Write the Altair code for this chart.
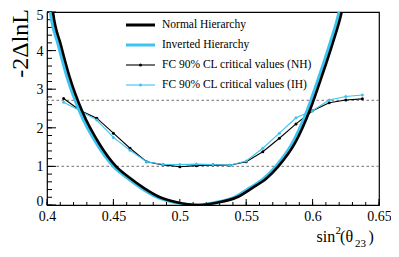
import altair as alt
import pandas as pd

# ---------------- data ----------------
nh_x = [0.4030, 0.4045, 0.4105, 0.4170, 0.4266, 0.4395, 0.4520, 0.4625, 0.4725, 0.4851,
        0.4977, 0.5130, 0.5280, 0.5430, 0.5550, 0.5650, 0.5742, 0.5867, 0.5980, 0.6068,
        0.6151, 0.6219, 0.6240]
nh_y = [5.45, 5.00, 4.14, 3.32, 2.42, 1.58, 1.00, 0.70, 0.45, 0.20,
        0.07, 0.00, 0.06, 0.20, 0.45, 0.68, 1.00, 1.60, 2.46, 3.32,
        4.19, 5.00, 5.35]
ih_x = [0.4010, 0.4025, 0.4085, 0.4150, 0.4246, 0.4375, 0.4500, 0.4605, 0.4705, 0.4831,
        0.4957, 0.5110, 0.5260, 0.5410, 0.5530, 0.5630, 0.5722, 0.5847, 0.5960, 0.6048,
        0.6131, 0.6199, 0.6220]
ih_y = [5.45, 5.00, 4.14, 3.32, 2.42, 1.58, 1.00, 0.70, 0.45, 0.20,
        0.07, 0.00, 0.06, 0.20, 0.45, 0.68, 1.00, 1.60, 2.46, 3.32,
        4.19, 5.00, 5.35]

fc_x = [0.4125, 0.4250, 0.4375, 0.4500, 0.4625, 0.4750, 0.4875, 0.5000, 0.5125, 0.5250,
        0.5375, 0.5500, 0.5625, 0.5750, 0.5875, 0.6000, 0.6125, 0.6250, 0.6375]
fc_nh_y = [2.76, 2.45, 2.25, 1.86, 1.47, 1.12, 1.04, 0.99, 1.02, 1.04,
           1.03, 1.12, 1.38, 1.73, 2.10, 2.44, 2.65, 2.72, 2.75]
fc_ih_y = [2.66, 2.44, 2.20, 1.75, 1.42, 1.12, 1.05, 1.05, 1.06, 1.05,
           1.03, 1.14, 1.47, 1.86, 2.26, 2.44, 2.72, 2.81, 2.85]

ref_levels = [2.71, 1.0]

x_labels = [0.4, 0.45, 0.5, 0.55, 0.6, 0.65]
y_labels = [0, 1, 2, 3, 4, 5]
x_minor = [round(0.4 + 0.01 * i, 2) for i in range(26)]
y_minor = [round(0.2 * i, 1) for i in range(26)]

legend_labels = ["Normal Hierarchy", "Inverted Hierarchy",
                 "FC 90% CL critical values (NH)", "FC 90% CL critical values (IH)"]

# ---------------- styling ----------------
W, H = 332, 193
BLACK = "#000000"
CYAN = "#3cc3f0"
FONT = "Liberation Serif"

xs = alt.Scale(domain=[0.4, 0.65], nice=False, zero=False)
ys = alt.Scale(domain=[0, 5], nice=False, zero=False)

x_axis = alt.Axis(values=x_labels, format=".2~f", ticks=False, domain=False,
                  grid=False, labelFont=FONT, labelFontSize=14, labelColor="black",
                  labelPadding=4, labelFlush=False, title=None)
y_axis = alt.Axis(values=y_labels, format="d", ticks=False, domain=False, grid=False,
                  labelFont=FONT, labelFontSize=14, labelColor="black",
                  labelPadding=4, labelFlush=False, title=None,
                  labelOffset={"condition": [{"test": "datum.value === 0", "value": -4},
                                             {"test": "datum.value === 5", "value": 3}],
                               "value": 0.5})

X = lambda f: alt.X(f, scale=xs, axis=x_axis)
Y = lambda f: alt.Y(f, scale=ys, axis=y_axis)


def curve(xv, yv, color, sw):
    df = pd.DataFrame({"x": xv, "y": yv})
    return alt.Chart(df).mark_line(color=color, strokeWidth=sw, clip=True,
                                   interpolate="monotone").encode(x=X("x:Q"), y=Y("y:Q"))


def fc(xv, yv, color):
    df = pd.DataFrame({"x": xv, "y": yv})
    return alt.Chart(df).mark_line(color=color, strokeWidth=1.1, clip=True,
                                   point=alt.OverlayMarkDef(color=color, filled=True,
                                                            size=9, opacity=1)).encode(
        x=X("x:Q"), y=Y("y:Q"))


one = pd.DataFrame({"a": [0]})


def txt(t, px, py, size, **kw):
    return alt.Chart(one).mark_text(text=t, font=FONT, fontSize=size, color="black",
                                    **kw).encode(x=alt.value(px), y=alt.value(py))


# reference (dashed) lines
ref = alt.Chart(pd.DataFrame({"y": ref_levels})).mark_rule(
    color="#8c8c8c", strokeDash=[2.5, 2.5], strokeWidth=1.1).encode(y=Y("y:Q"))

# inside ticks (ROOT style)
xmaj = alt.Chart(pd.DataFrame({"x": x_labels})).mark_rule(color="black", strokeWidth=1).encode(
    x=X("x:Q"), y=alt.value(H), y2=alt.value(H - 6))
xmin = alt.Chart(pd.DataFrame({"x": x_minor})).mark_rule(color="black", strokeWidth=1).encode(
    x=X("x:Q"), y=alt.value(H), y2=alt.value(H - 3))
ymaj = alt.Chart(pd.DataFrame({"y": y_labels})).mark_rule(color="black", strokeWidth=1).encode(
    y=Y("y:Q"), x=alt.value(0), x2=alt.value(9))
ymin = alt.Chart(pd.DataFrame({"y": y_minor})).mark_rule(color="black", strokeWidth=1).encode(
    y=Y("y:Q"), x=alt.value(0), x2=alt.value(5))

layers = [ref, xmin, xmaj, ymin, ymaj,
          fc(fc_x, fc_nh_y, BLACK), fc(fc_x, fc_ih_y, CYAN),
          curve(ih_x, ih_y, CYAN, 3), curve(nh_x, nh_y, BLACK, 2.6)]

# legend (drawn by hand, ROOT style without a box)
leg_cols = [BLACK, CYAN, BLACK, CYAN]
leg_sw = [3, 3, 1.1, 1.1]
for i, lab in enumerate(legend_labels):
    py = 13 + 20 * i
    layers.append(alt.Chart(one).mark_rule(color=leg_cols[i], strokeWidth=leg_sw[i]).encode(
        x=alt.value(79), x2=alt.value(108), y=alt.value(py)))
    if i >= 2:
        layers.append(alt.Chart(one).mark_point(filled=True, size=9, opacity=1,
                                                color=leg_cols[i]).encode(
            x=alt.value(93.5), y=alt.value(py)))
    layers.append(txt(lab, 115, py, 11.5, align="left", baseline="middle"))

# y title
layers.append(txt("-2\u0394lnL", -26, -3, 24, angle=270, align="right", baseline="middle"))

# x title: sin^2(theta_23)
xt = [("sin", 269.5, 229.5, 16), ("2", 288.6, 222.0, 11), ("(", 293.0, 229.5, 16),
      ("\u03b8", 298.5, 229.5, 16), ("23", 308.0, 234.5, 11), (")", 321.5, 229.5, 16)]
for t, px, py, s in xt:
    layers.append(txt(t, px, py, s, align="left", baseline="alphabetic"))

chart = alt.layer(*layers).properties(
    width=W, height=H,
    autosize=alt.AutoSizeParams(type="none"),
    padding={"left": 39, "top": 4, "right": 12, "bottom": 44},
    background="white",
).configure_view(stroke="black", strokeWidth=1.2)

chart.save("out.html", embed_options={"renderer": "svg", "actions": False})
